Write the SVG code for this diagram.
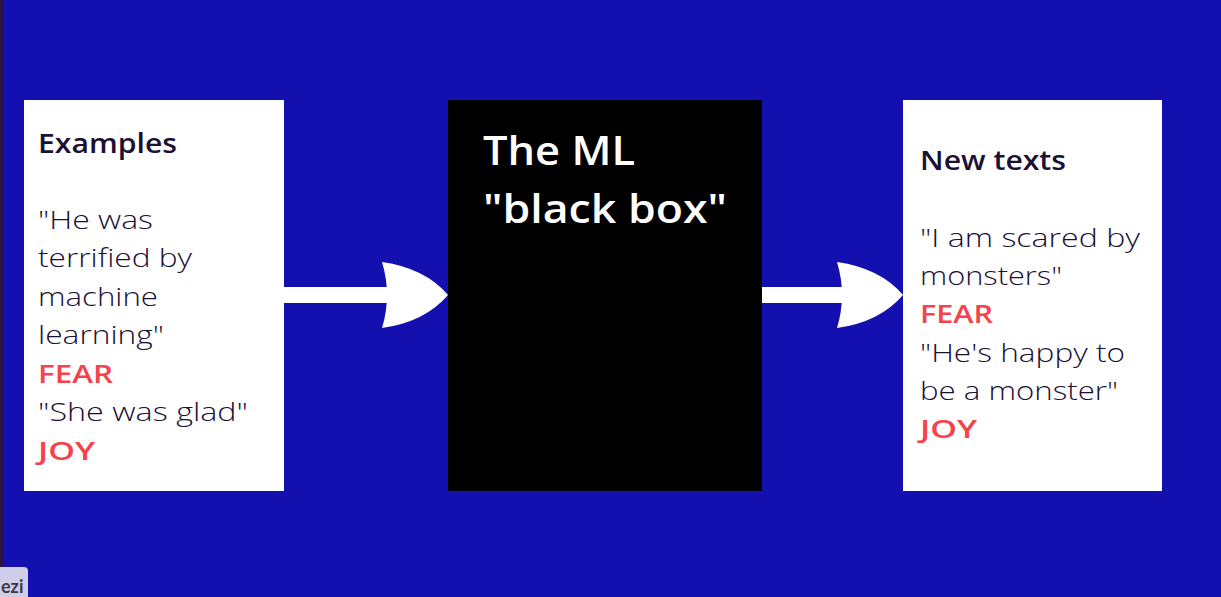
<svg xmlns="http://www.w3.org/2000/svg" width="1221" height="597" viewBox="0 0 1221 597">
<style>
.card{fill:#ffffff}
.t{font-family:"Open Sans",Lato,sans-serif;fill:#1b1135;font-size:26px;font-weight:300}
.h{font-family:"Open Sans",Lato,sans-serif;fill:#1b1135;font-size:27px;font-weight:600}
.r{font-family:"Open Sans",Lato,sans-serif;fill:#f5424b;font-size:26px;font-weight:600}
.w{font-family:"Open Sans",Lato,sans-serif;fill:#ffffff;font-size:40px;font-weight:600}
.arrow{fill:#ffffff}
</style>
<rect x="0" y="0" width="1221" height="597" fill="#1410b0"/>
<rect x="0" y="0" width="4" height="597" fill="#2a1446"/>
<g id="connectors">
<g id="arrow1">
<rect class="arrow" x="283" y="287" width="106" height="16"/>
<path class="arrow" d="M382,262 Q425,268 448,295 Q425,322 382,328 Q392,295 382,262 Z"/>
</g>
<g id="arrow2">
<rect class="arrow" x="761" y="287" width="82" height="16"/>
<path class="arrow" d="M837,262 Q880,268 903,295 Q880,322 837,328 Q847,295 837,262 Z"/>
</g>
</g>
<g id="examples">
<rect class="card" x="24" y="100" width="260" height="391"/>
<text class="h" x="38" y="153" textLength="139" lengthAdjust="spacingAndGlyphs">Examples</text>
<text class="t" x="38" y="229" textLength="115" lengthAdjust="spacingAndGlyphs">"He was</text>
<text class="t" x="38" y="267" textLength="154" lengthAdjust="spacingAndGlyphs">terrified by</text>
<text class="t" x="38" y="306" textLength="120" lengthAdjust="spacingAndGlyphs">machine</text>
<text class="t" x="38" y="344" textLength="126" lengthAdjust="spacingAndGlyphs">learning"</text>
<text class="r" x="38" y="383" textLength="75" lengthAdjust="spacingAndGlyphs">FEAR</text>
<text class="t" x="38" y="421" textLength="210" lengthAdjust="spacingAndGlyphs">"She was glad"</text>
<text class="r" x="38" y="460" textLength="57" lengthAdjust="spacingAndGlyphs">JOY</text>
</g>
<g id="blackbox">
<rect x="448" y="100" width="314" height="391" fill="#000000"/>
<text class="w" x="483" y="165" textLength="152" lengthAdjust="spacingAndGlyphs">The ML</text>
<text class="w" x="483" y="223" textLength="244" lengthAdjust="spacingAndGlyphs">"black box"</text>
</g>
<g id="newtexts">
<rect class="card" x="903" y="100" width="259" height="391"/>
<text class="h" x="920" y="170" textLength="146" lengthAdjust="spacingAndGlyphs">New texts</text>
<text class="t" x="920" y="247" textLength="220" lengthAdjust="spacingAndGlyphs">"I am scared by</text>
<text class="t" x="920" y="285" textLength="142" lengthAdjust="spacingAndGlyphs">monsters"</text>
<text class="r" x="920" y="323" textLength="73" lengthAdjust="spacingAndGlyphs">FEAR</text>
<text class="t" x="920" y="362" textLength="205" lengthAdjust="spacingAndGlyphs">"He's happy to</text>
<text class="t" x="920" y="400" textLength="198" lengthAdjust="spacingAndGlyphs">be a monster"</text>
<text class="r" x="920" y="438" textLength="57" lengthAdjust="spacingAndGlyphs">JOY</text>
</g>
<g id="badge">
<rect x="-6" y="567" width="34" height="40" rx="4" fill="#cfcde8"/>
<text x="1" y="593" font-family="Lato,sans-serif" font-size="18" font-weight="700" fill="#3a3a4a">ezi</text>
</g>
</svg>
